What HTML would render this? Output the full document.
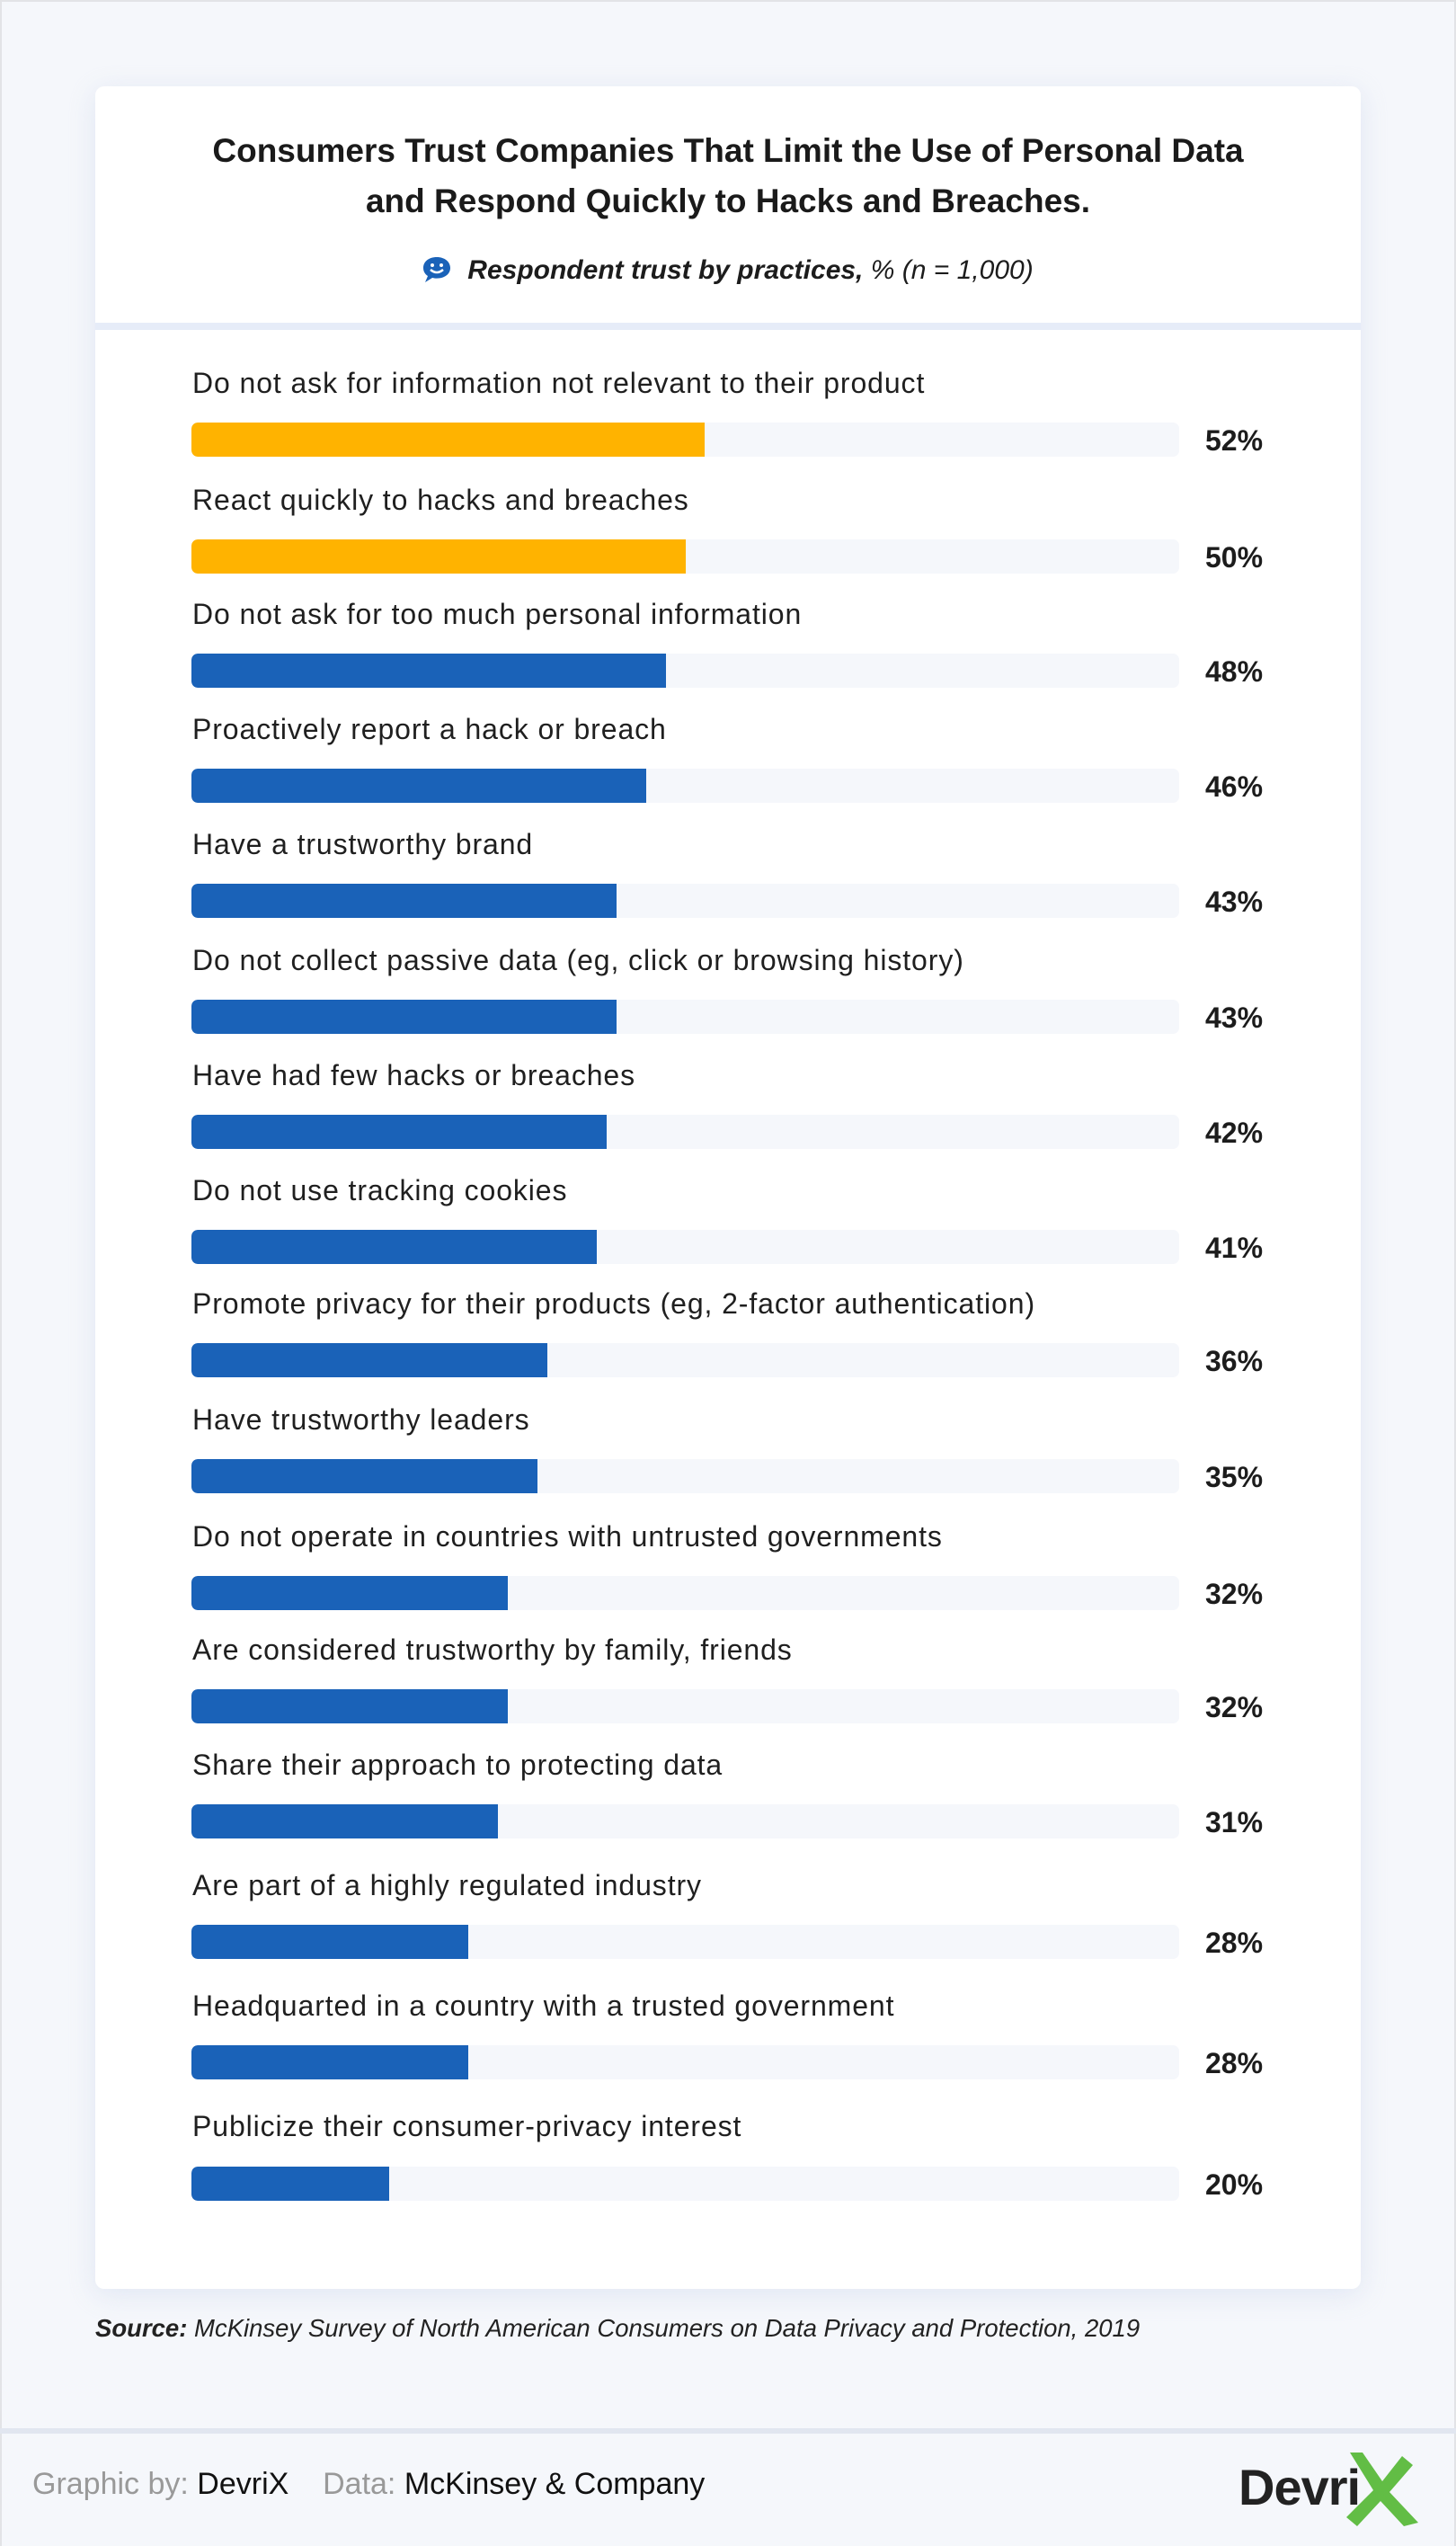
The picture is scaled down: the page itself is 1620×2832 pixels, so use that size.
<!DOCTYPE html>
<html><head><meta charset="utf-8"><style>
*{margin:0;padding:0;box-sizing:border-box}
body{width:1620px;height:2832px;background:#f5f7fb;font-family:"Liberation Sans",sans-serif;position:relative;overflow:hidden;color:#1c1c1c}
.frame{position:absolute;left:0;top:0;width:1620px;height:2832px;border:2px solid #e2e3e6;border-bottom:none}
.card{position:absolute;left:106px;top:96px;width:1408px;height:2450px;background:#fff;border-radius:10px;box-shadow:0 6px 30px rgba(200,210,235,.45)}
.title{position:absolute;left:106px;width:1408px;top:140px;text-align:center;font-weight:bold;font-size:37px;line-height:56px;color:#1a1a1a}
.sub{position:absolute;left:0;width:1620px;top:281px;text-align:center;font-size:30px;font-style:italic;line-height:40px}
.sep{position:absolute;left:106px;width:1408px;top:359px;height:8px;background:#e6ecf8}
.lab{position:absolute;left:214px;font-size:32px;letter-spacing:0.9px;line-height:40px;white-space:nowrap;color:#1f1f1f;margin-top:2px}
.track{position:absolute;left:213px;width:1099px;height:38px;background:#f5f7fb;border-radius:7px;overflow:hidden}
.fill{height:100%;background:#1a62b8;border-radius:7px 0 0 7px}
.y{background:#ffb300}
.pct{position:absolute;left:1341px;font-weight:bold;font-size:32px;line-height:40px;margin-top:1px}
.src{position:absolute;left:106px;top:2574px;font-size:27.5px;font-style:italic;color:#222}
.fdiv{position:absolute;left:0;width:1620px;top:2701px;height:6px;background:#e1e6f0}
.foot{position:absolute;left:36px;top:2744px;font-size:34px;color:#111}
.foot .g{color:#999}
.logo{position:absolute;left:1378px;top:2734px;font-size:56px;font-weight:bold;color:#222;letter-spacing:-1px}
</style></head><body>
<div class="frame"></div>
<div class="card"></div>
<div class="title">Consumers Trust Companies That Limit the Use of Personal Data<br>and Respond Quickly to Hacks and Breaches.</div>
<div class="sub"><svg width="32" height="30" viewBox="0 0 32 30" style="vertical-align:-5px;margin-right:18px"><path d="M16 1C7 1 1 6 1 13c0 4 2 7 5 9l-3 7 8-5c2 .5 3 .6 5 .6 9 0 15-5 15-11.6S25 1 16 1z" fill="#1a62b8"/><circle cx="11" cy="10" r="2" fill="#fff"/><circle cx="21" cy="10" r="2" fill="#fff"/><path d="M9 15q7 6 14 0" stroke="#fff" stroke-width="2.5" fill="none"/></svg><b>Respondent trust by practices,</b> % (n = 1,000)</div>
<div class="sep"></div>

<div class="lab" style="top:404px">Do not ask for information not relevant to their product</div>
<div class="track" style="top:470px"><div class="fill y" style="width:52%"></div></div><div class="pct" style="top:469px">52%</div>

<div class="lab" style="top:534px">React quickly to hacks and breaches</div>
<div class="track" style="top:600px"><div class="fill y" style="width:50%"></div></div><div class="pct" style="top:599px">50%</div>

<div class="lab" style="top:661px">Do not ask for too much personal information</div>
<div class="track" style="top:727px"><div class="fill" style="width:48%"></div></div><div class="pct" style="top:726px">48%</div>

<div class="lab" style="top:789px">Proactively report a hack or breach</div>
<div class="track" style="top:855px"><div class="fill" style="width:46%"></div></div><div class="pct" style="top:854px">46%</div>

<div class="lab" style="top:917px">Have a trustworthy brand</div>
<div class="track" style="top:983px"><div class="fill" style="width:43%"></div></div><div class="pct" style="top:982px">43%</div>

<div class="lab" style="top:1046px">Do not collect passive data (eg, click or browsing history)</div>
<div class="track" style="top:1112px"><div class="fill" style="width:43%"></div></div><div class="pct" style="top:1111px">43%</div>

<div class="lab" style="top:1174px">Have had few hacks or breaches</div>
<div class="track" style="top:1240px"><div class="fill" style="width:42%"></div></div><div class="pct" style="top:1239px">42%</div>

<div class="lab" style="top:1302px">Do not use tracking cookies</div>
<div class="track" style="top:1368px"><div class="fill" style="width:41%"></div></div><div class="pct" style="top:1367px">41%</div>

<div class="lab" style="top:1428px">Promote privacy for their products (eg, 2-factor authentication)</div>
<div class="track" style="top:1494px"><div class="fill" style="width:36%"></div></div><div class="pct" style="top:1493px">36%</div>

<div class="lab" style="top:1557px">Have trustworthy leaders</div>
<div class="track" style="top:1623px"><div class="fill" style="width:35%"></div></div><div class="pct" style="top:1622px">35%</div>

<div class="lab" style="top:1687px">Do not operate in countries with untrusted governments</div>
<div class="track" style="top:1753px"><div class="fill" style="width:32%"></div></div><div class="pct" style="top:1752px">32%</div>

<div class="lab" style="top:1813px">Are considered trustworthy by family, friends</div>
<div class="track" style="top:1879px"><div class="fill" style="width:32%"></div></div><div class="pct" style="top:1878px">32%</div>

<div class="lab" style="top:1941px">Share their approach to protecting data</div>
<div class="track" style="top:2007px"><div class="fill" style="width:31%"></div></div><div class="pct" style="top:2006px">31%</div>

<div class="lab" style="top:2075px">Are part of a highly regulated industry</div>
<div class="track" style="top:2141px"><div class="fill" style="width:28%"></div></div><div class="pct" style="top:2140px">28%</div>

<div class="lab" style="top:2209px">Headquarted in a country with a trusted government</div>
<div class="track" style="top:2275px"><div class="fill" style="width:28%"></div></div><div class="pct" style="top:2274px">28%</div>

<div class="lab" style="top:2343px">Publicize their consumer-privacy interest</div>
<div class="track" style="top:2410px"><div class="fill" style="width:20%"></div></div><div class="pct" style="top:2409px">20%</div>

<div class="src"><b>Source:</b> McKinsey Survey of North American Consumers on Data Privacy and Protection, 2019</div>
<div class="fdiv"></div>
<div class="foot"><span class="g">Graphic by:</span> DevriX &nbsp;&nbsp; <span class="g">Data:</span> McKinsey &amp; Company</div>
<div class="logo">Devri</div>
<svg style="position:absolute;left:1494px;top:2728px" width="88" height="82" viewBox="0 0 88 82"><path d="M8 0 L22 0 L44 32 L66 4 L78 14 L52 44 L84 78 L68 82 L42 54 L16 82 L4 72 L34 42 Z" fill="#62bd45"/></svg>
</body></html>
